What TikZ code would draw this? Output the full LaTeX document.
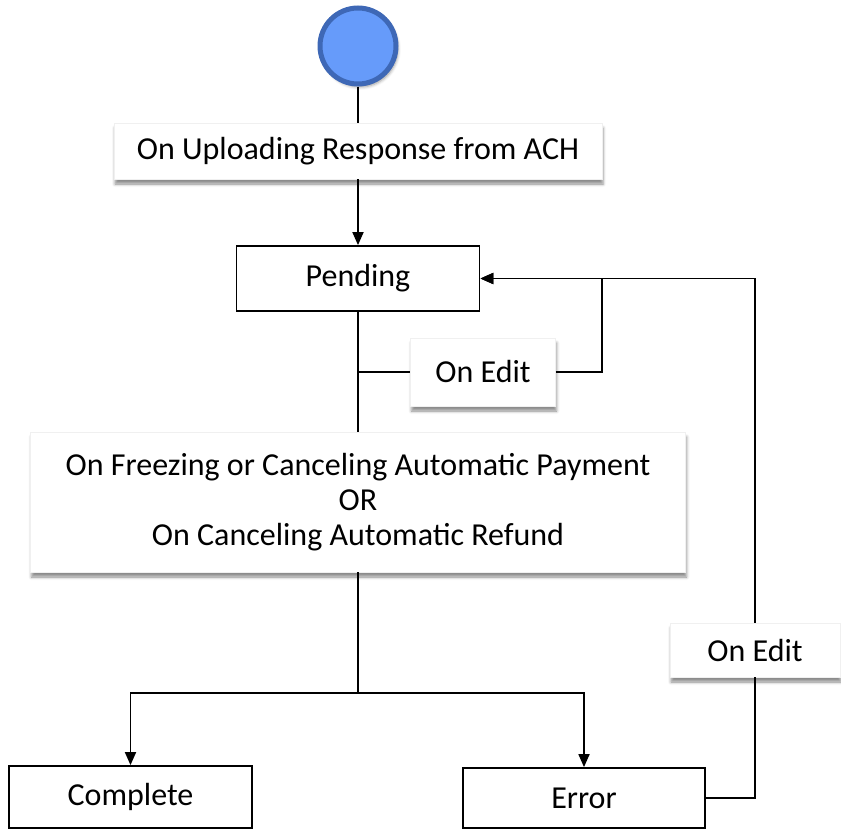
\documentclass[tikz,border=0pt]{standalone}
\usepackage{fontspec}
\setmainfont{Carlito}
\usetikzlibrary{calc, arrows.meta, shadows.blur}
\definecolor{startfill}{RGB}{102,155,250}
\definecolor{startline}{RGB}{62,104,182}

\begin{document}
\begin{tikzpicture}[x=1pt, y=-1pt, line width=1.8pt,
  every node/.style={font=\fontsize{32}{35}\selectfont, inner sep=0pt},
  state/.style={draw, fill=white, minimum width=243pt, minimum height=63pt},
  event/.style={fill=white, draw=gray!12, line width=0.6pt, align=center,
    blur shadow={shadow xshift=1pt, shadow yshift=-5pt, shadow blur radius=3pt, shadow opacity=45}},
  tip/.style={-{Triangle[length=13pt, width=11pt]}}]
  \useasboundingbox (0,0) rectangle (841,833);
  % start and states
  \node[circle, minimum size=76pt, fill=startfill, draw=startline, line width=5pt,
    blur shadow={shadow xshift=2pt, shadow yshift=-3pt, shadow blur radius=3pt}] (S) at (358,46) {};
  \node[state, minimum height=65pt] (P) at (358,278.5) {Pending};
  \node[state, minimum height=62pt] (C) at (130.5,797) {Complete};
  \node[state, minimum width=242pt, minimum height=60pt] (R) at (584,798) {Error};
  % events
  \node[event, minimum width=488pt, minimum height=56pt] (U) at (358,151) {On Uploading Response from ACH};
  \node[event, minimum width=145pt, minimum height=68pt] (E1) at (483,372) {On Edit};
  \node[event, minimum width=655pt, minimum height=140pt] (F) at (358,502)
    {On Freezing or Canceling Automatic Payment\\OR\\On Canceling Automatic Refund};
  \node[event, minimum width=170pt, minimum height=54pt] (E2) at (755,650) {On Edit};
  \coordinate (J1) at (P.south |- E1.west);
  \coordinate (J2) at (358,693);
  % connectors
  \draw (S) -- (U);
  \draw[tip] (U) -- (P);
  \draw (P) -- (F);
  \draw (J1) -- (E1.west);
  \draw[tip] (E1.east) -- ++(46,0) |- (P.east);
  \draw (F.south) -- (J2);
  \draw[tip] (J2) -| (C.north);
  \draw[tip] (J2) -| (R.north);
  \draw (R.east) -| (E2.south);
  \draw[tip] (E2.north) |- (P.east);
\end{tikzpicture}
\end{document}
